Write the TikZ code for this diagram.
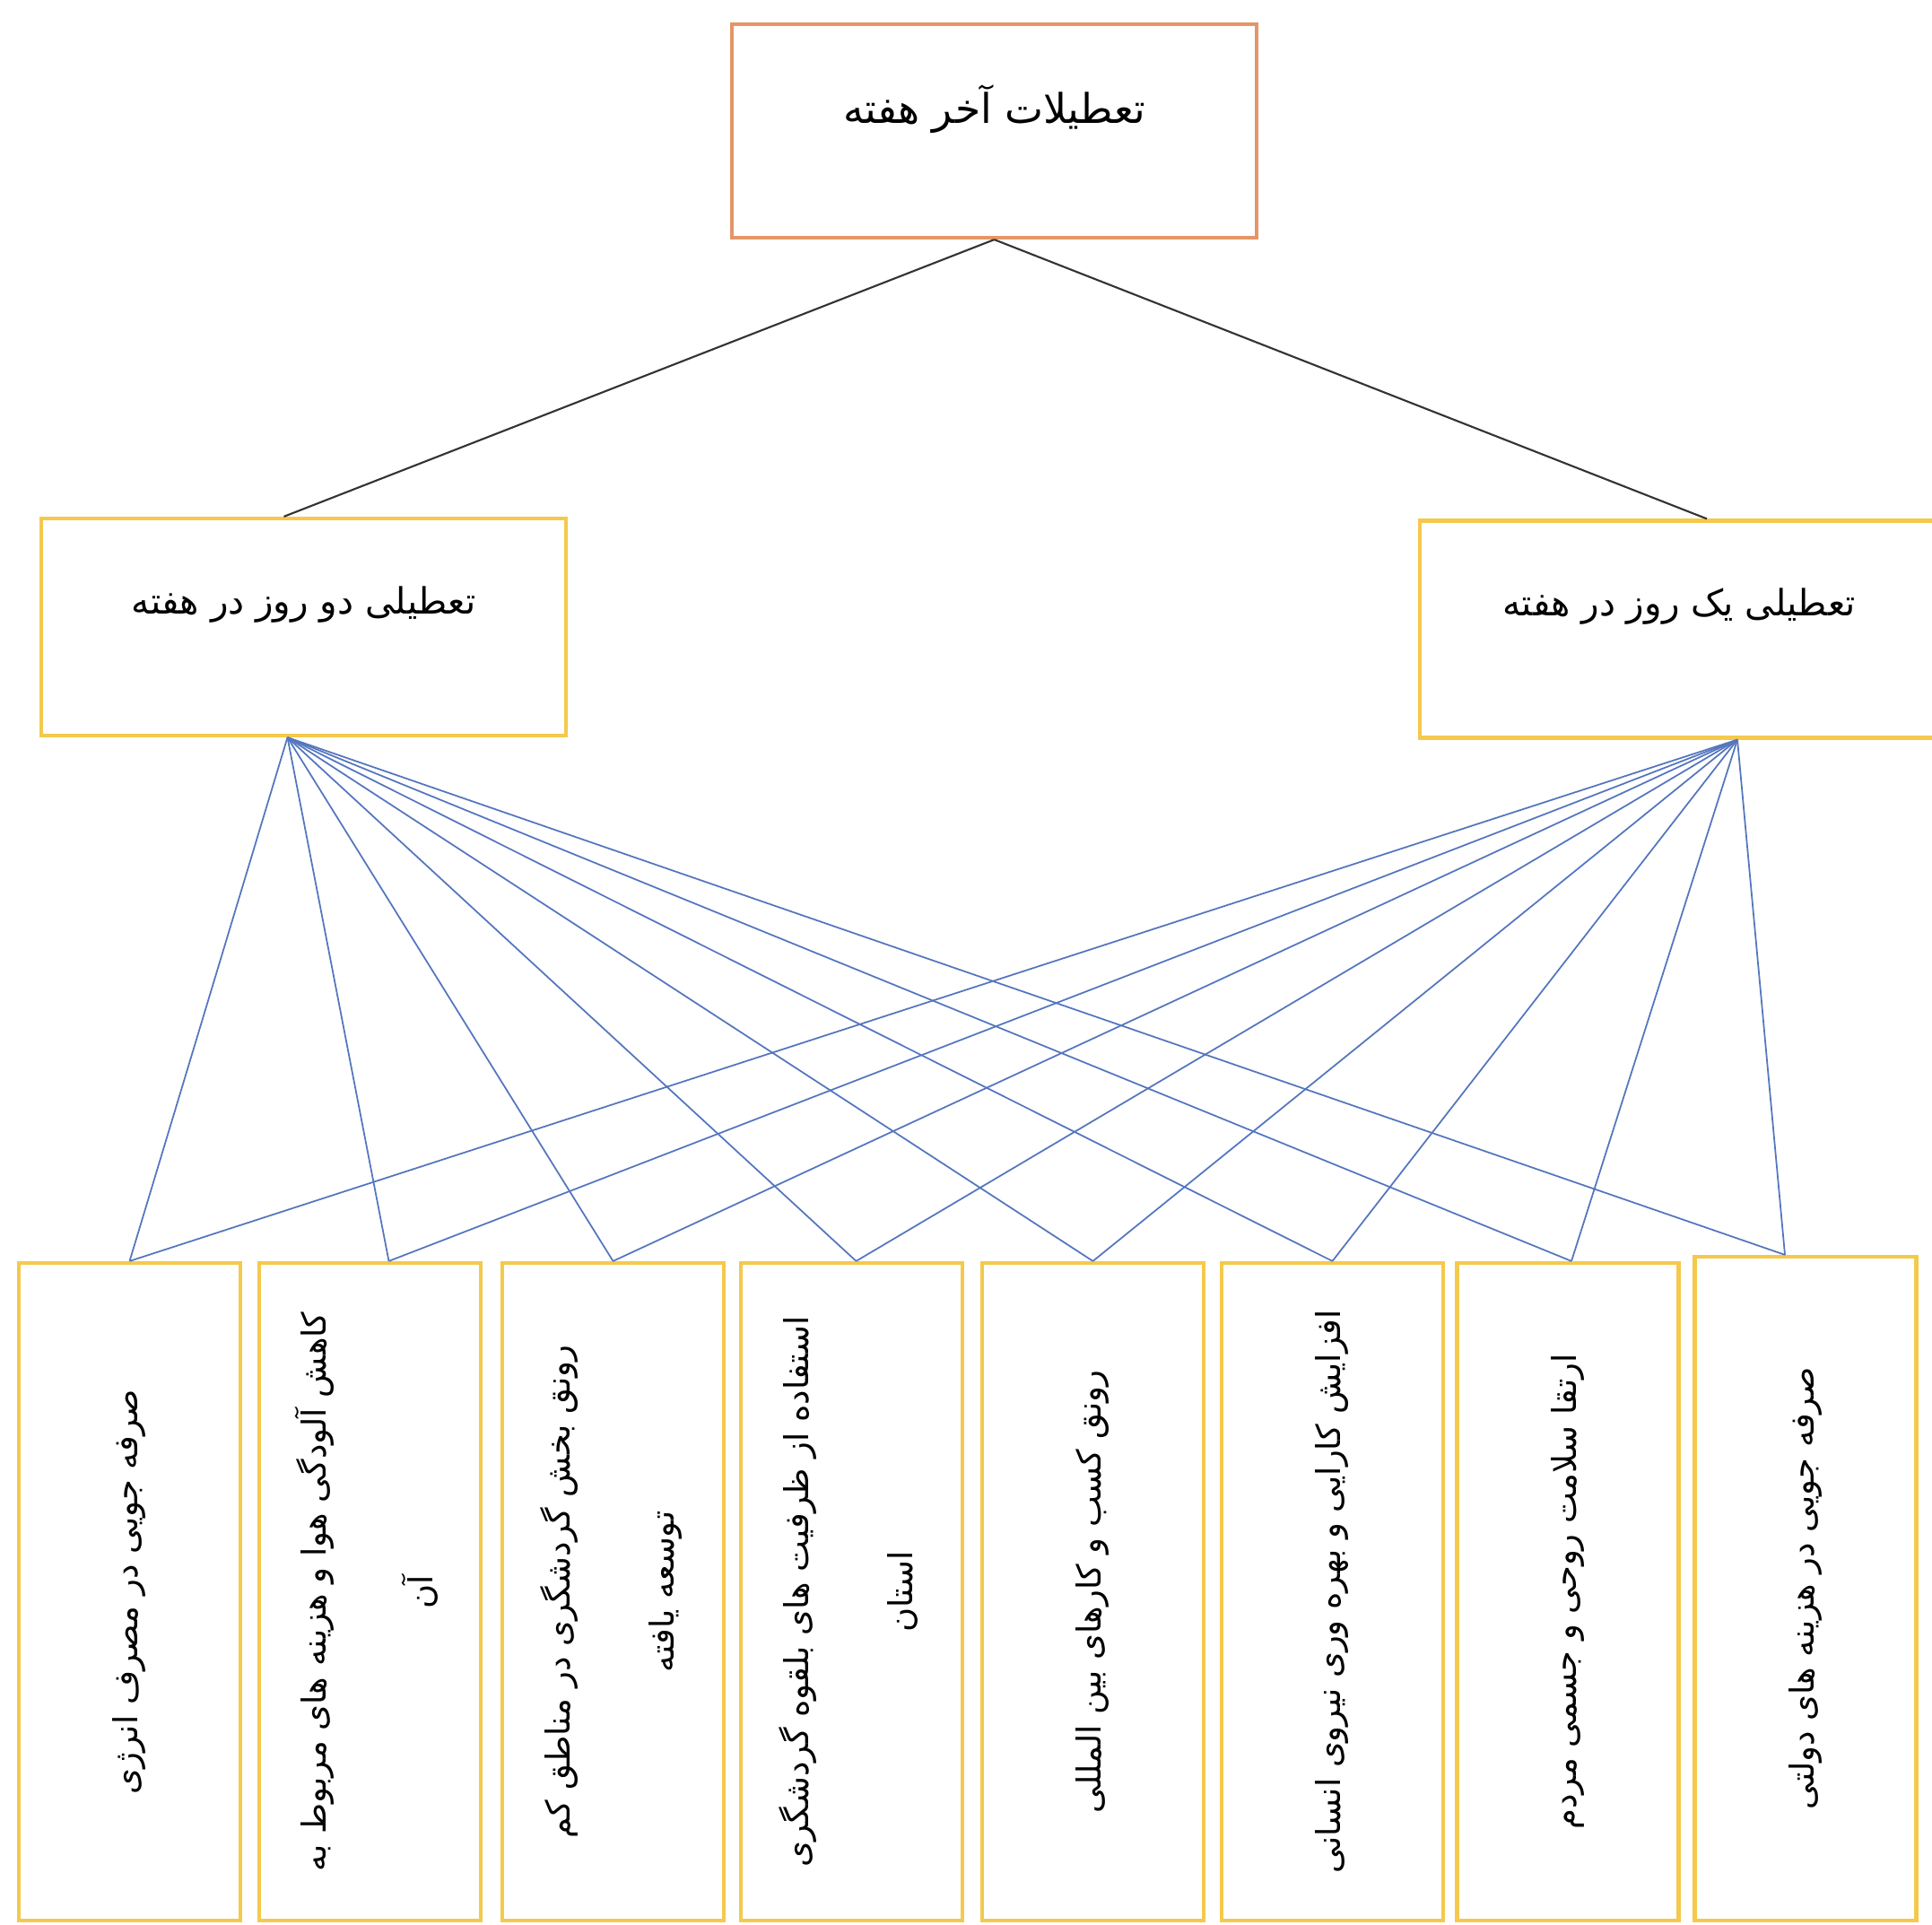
\documentclass[tikz,border=0pt]{standalone}
\usepackage{fontspec}
\usepackage{graphicx}
\usepackage{tikz}
\usetikzlibrary{positioning}
\TeXXeTstate=1
\newfontfamily\arabicfont[Script=Arabic]{DejaVu Sans}
\definecolor{boxorange}{RGB}{228,150,104}
\definecolor{boxgold}{RGB}{244,201,76}
\definecolor{linkblue}{RGB}{84,118,190}
\newcommand{\rl}[1]{\beginR #1\endR}
\newcommand{\vlines}[1]{\rotatebox{90}{\begin{tabular}{@{}c@{}}#1\end{tabular}}}

\begin{document}
\begin{tikzpicture}[font=\arabicfont\fontsize{13}{16}\selectfont]
      \tikzstyle{topbox}=[draw=boxorange, fill=white, line width=1.2pt, minimum width=5.85cm, minimum height=2.38cm, text depth=0.6cm]
      \tikzstyle{daybox}=[draw=boxgold, fill=white, line width=1.2pt, minimum width=5.85cm, minimum height=2.42cm, text depth=0.6cm, font=\arabicfont\fontsize{11.5}{14}\selectfont]
      \tikzstyle{gainbox}=[draw=boxgold, fill=white, line width=1.2pt, minimum width=2.47cm, minimum height=7.33cm, inner sep=0pt, font=\arabicfont\fontsize{10.5}{13}\selectfont]
      \tikzstyle{treeline}=[black!80, line width=0.6pt]
      \tikzstyle{linkline}=[linkblue, line width=0.5pt]

      \useasboundingbox (0,0) rectangle (21.54,-21.46);

      \node[topbox] (W) at (11.085,-1.46) {\rl{تعطیلات آخر هفته}};
      \node[daybox] (D2) at (3.385,-6.99) {\rl{تعطیلی دو روز در هفته}};
      \node[daybox, minimum width=5.78cm] (D1) at (18.72,-7.015) {\rl{تعطیلی یک روز در هفته}};

      \node[gainbox] (b1) at (1.445,-17.745) {\vlines{\rl{صرفه جویی در مصرف انرژی}}};
      \node[gainbox] (b2) at (4.125,-17.745) {\vlines{\rl{کاهش آلودگی هوا و هزینه های مربوط به}\\[20pt]\rl{آن}}};
      \node[gainbox] (b3) at (6.835,-17.745) {\vlines{\rl{رونق بخش گردشگری در مناطق کم}\\[20pt]\rl{توسعه یافته}}};
      \node[gainbox] (b4) at (9.495,-17.745) {\vlines{\rl{استفاده از ظرفیت های بلقوه گردشگری}\\[20pt]\rl{استان}}};
      \node[gainbox] (b5) at (12.185,-17.745) {\vlines{\rl{رونق کسب و کارهای بین المللی}}};
      \node[gainbox] (b6) at (14.855,-17.745) {\vlines{\rl{افزایش کارایی و بهره وری نیروی انسانی}}};
      \node[gainbox] (b7) at (17.48,-17.745) {\vlines{\rl{ارتقا سلامت روحی و جسمی مردم}}};
      \node[gainbox, minimum height=7.40cm] (b8) at (20.13,-17.71) {\vlines{\rl{صرفه جویی در هزینه های دولتی}}};

      \draw[treeline] (W.south) -- ([xshift=-0.22cm]D2.north);
      \draw[treeline] (W.south) -- ([xshift=0.31cm]D1.north);

      \foreach \b/\s in {1/0,2/0.21,3/0,4/0.05,5/0,6/0,7/0.04,8/-0.23} {
        \draw[linkline] ([xshift=-0.18cm]D2.south) -- ([xshift=\s cm]b\b.north);
        \draw[linkline] ([xshift=0.65cm]D1.south) -- ([xshift=\s cm]b\b.north);
      }

\end{tikzpicture}
\end{document}
